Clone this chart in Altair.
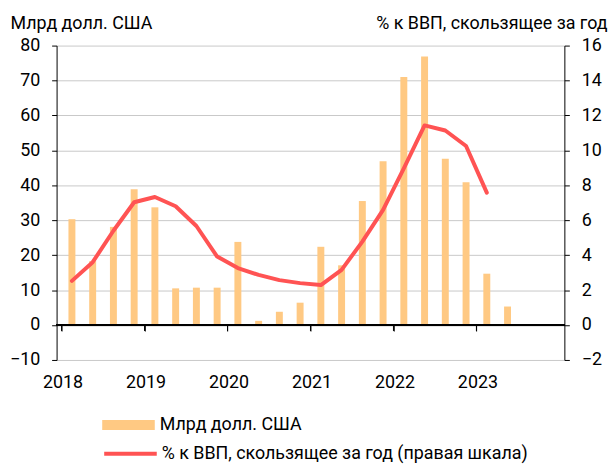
import altair as alt
import pandas as pd

quarters = ["2018 Q1", "2018 Q2", "2018 Q3", "2018 Q4",
            "2019 Q1", "2019 Q2", "2019 Q3", "2019 Q4",
            "2020 Q1", "2020 Q2", "2020 Q3", "2020 Q4",
            "2021 Q1", "2021 Q2", "2021 Q3", "2021 Q4",
            "2022 Q1", "2022 Q2", "2022 Q3", "2022 Q4",
            "2023 Q1", "2023 Q2"]
bn_usd = [30.3, 18.3, 28.1, 38.9, 33.7, 10.5, 10.7, 10.7, 23.8, 1.2, 3.8, 6.4,
          22.4, 17.1, 35.5, 46.9, 71.0, 76.9, 47.6, 40.9, 14.7, 5.3]
pct_gdp = [2.53, 3.6, 5.4, 7.03, 7.33, 6.8, 5.67, 3.92, 3.26, 2.87, 2.57, 2.4,
           2.29, 3.16, 4.78, 6.59, 8.97, 11.43, 11.14, 10.25, 7.58, None]
year_ticks = [2018, 2019, 2020, 2021, 2022, 2023]
left_ticks = [-10, 0, 10, 20, 30, 40, 50, 60, 70, 80]
right_ticks = [-2, 0, 2, 4, 6, 8, 10, 12, 14, 16]

bar_name = "Млрд долл. США"
line_name = "% к ВВП, скользящее за год (правая шкала)"
left_title = "Млрд долл. США"
right_title = "% к ВВП, скользящее за год"

df = pd.DataFrame({"q": quarters, "bn": bn_usd, "pct": pct_gdp})
df["yr"] = df["q"].str[:4].astype(int)
df["qn"] = df["q"].str[-1].astype(int)
df["t"] = df["yr"] + (df["qn"] - 0.5) / 4
df["s1"] = bar_name
df["s2"] = line_name
ticks_df = pd.DataFrame({"t": year_ticks})

FONT = "Roboto"
ORANGE = "#FFC983"
RED = "#FF5353"

x_axis = alt.Axis(values=year_ticks, format="d", title=None, grid=False,
                  offset=-35.2, domain=True, domainColor="black", domainWidth=1,
                  ticks=True, tickColor="black", tickWidth=1, tickSize=6,
                  labelPadding=43, labelFontSize=18,
                  labelFont=FONT, labelColor="black", labelOffset=1, zindex=1)
x_scale = alt.Scale(domain=[2018, 2024], nice=False, zero=False)
y_left = alt.Scale(domain=[-10, 80], nice=False)
left_axis = alt.Axis(values=left_ticks, title=left_title, titleAngle=0,
                     titleAlign="left", titleBaseline="alphabetic",
                     titleX=-47, titleY=-17, titleFont=FONT, titleFontSize=18,
                     titleFontWeight="normal", titleColor="black",
                     grid=True, gridColor="#C8C8C8", gridWidth=1,
                     domainColor="black", tickColor="black", tickSize=5,
                     labelPadding=12, labelFontSize=18, labelFont=FONT,
                     labelColor="black", labelOverlap=False)

bars = alt.Chart(df).mark_bar(size=7).encode(
    x=alt.X("t:Q", scale=x_scale, axis=x_axis),
    y=alt.Y("bn:Q", scale=y_left, axis=left_axis),
    fill=alt.Fill("s1:N", scale=alt.Scale(domain=[bar_name], range=[ORANGE]),
                  legend=alt.Legend(title=None, orient="none", legendX=46, legendY=356,
                                    symbolType="M-1,-0.19H1V0.19H-1Z", symbolSize=2809,
                                    symbolStrokeWidth=0, labelFontSize=18, labelFont=FONT,
                                    labelColor="black", labelOffset=5, labelLimit=500,
                                    padding=0)),
)

zero_rule = alt.Chart(df).mark_rule(color="black", strokeWidth=1).encode(
    y=alt.Y(datum=0, scale=y_left, axis=left_axis)
)

year_marks = alt.Chart(ticks_df).mark_rule(color="black", strokeWidth=1).encode(
    x=alt.X("t:Q", scale=x_scale, axis=x_axis),
    y=alt.Y(datum=0, scale=y_left, axis=left_axis),
    y2=alt.Y2(datum=-1.7),
)

line = alt.Chart(df).mark_line(strokeWidth=4, strokeCap="round", strokeJoin="round").encode(
    x=alt.X("t:Q", scale=x_scale, axis=x_axis),
    y=alt.Y("pct:Q", scale=alt.Scale(domain=[-2, 16], nice=False),
            axis=alt.Axis(values=right_ticks, orient="right", title=right_title,
                          titleAngle=0, titleAlign="right", titleBaseline="alphabetic",
                          titleX=43, titleY=-17, titleFont=FONT, titleFontSize=18,
                          titleFontWeight="normal", titleColor="black", grid=False,
                          domainColor="black", tickColor="black", tickSize=5,
                          labelPadding=12, labelFontSize=18, labelFont=FONT,
                          labelColor="black")),
    stroke=alt.Stroke("s2:N", scale=alt.Scale(domain=[line_name], range=[RED]),
                      legend=alt.Legend(title=None, orient="none", legendX=46, legendY=383,
                                        symbolType="stroke", symbolSize=2809,
                                        symbolStrokeWidth=4, labelFontSize=18,
                                        labelFont=FONT, labelColor="black",
                                        labelOffset=3, labelLimit=500, padding=0)),
)

chart = alt.layer(alt.layer(bars, zero_rule, year_marks), line).resolve_scale(
    y="independent"
).properties(
    width=512, height=317,
    padding={"left": 49, "top": 36, "right": 44, "bottom": 104},
    autosize=alt.AutoSizeParams(type="none"),
).configure_view(strokeWidth=0)

chart.save("out.html", embed_options={"renderer": "svg", "actions": False})
